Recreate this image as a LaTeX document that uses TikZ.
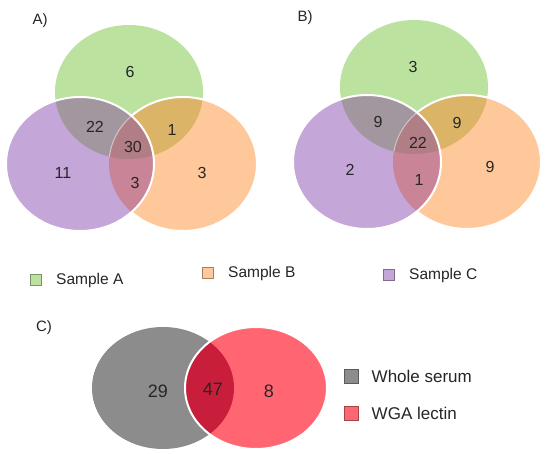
\documentclass[tikz,border=0pt]{standalone}
\usepackage{fontspec}
\setmainfont{Liberation Sans}
\usetikzlibrary{positioning}

\definecolor{sampleA}{HTML}{BCE2A0}
\definecolor{sampleB}{HTML}{FFC89B}
\definecolor{sampleC}{HTML}{C4A6D8}
\definecolor{sampleAB}{HTML}{DCB468}
\definecolor{sampleAC}{HTML}{A2969F}
\definecolor{sampleBC}{HTML}{C98597}
\definecolor{sampleABC}{HTML}{B27E85}
\definecolor{serum}{HTML}{8C8C8C}
\definecolor{lectin}{HTML}{FF6672}
\definecolor{serumlectin}{HTML}{C81E3C}
\definecolor{txt}{HTML}{262626}

\tikzset{
    set radius/.style={x radius=74, y radius=67},
    pair radius/.style={x radius=71, y radius=61},
    white rim/.style={draw=white, line width=2pt},
    count/.style={font=\fontsize{16}{18}\selectfont, text=txt},
    big count/.style={font=\fontsize{18}{20}\selectfont, text=txt},
    panel/.style={font=\fontsize{15}{17}\selectfont, text=txt},
    key box/.style={draw=#1!65!black, fill=#1, minimum size=11pt, inner sep=0pt},
    big key box/.style={key box=#1, minimum size=14pt},
    key/.style={font=\fontsize{15.5}{17}\selectfont, text=txt},
    big key/.style={font=\fontsize{17}{19}\selectfont, text=txt},
}

% #1 green centre, #2 orange centre, #3 purple centre
\newcommand{\vennTriple}[3]{
    \fill[sampleA] #1 ellipse[set radius];
    \fill[sampleB] #2 ellipse[set radius];
    \begin{scope}
        \clip #1 ellipse[set radius];
        \fill[sampleAB] #2 ellipse[set radius];
    \end{scope}
    \draw[white rim] #2 ellipse[set radius];
    \fill[sampleC] #3 ellipse[set radius];
    \begin{scope}
        \clip #3 ellipse[set radius];
        \fill[sampleBC] #2 ellipse[set radius];
        \fill[sampleAC] #1 ellipse[set radius];
        \clip #1 ellipse[set radius];
        \fill[sampleABC] #2 ellipse[set radius];
        \draw[white, line width=1pt, opacity=.5] #2 ellipse[set radius];
    \end{scope}
    \draw[white rim] #3 ellipse[set radius];
}

\begin{document}
\begin{tikzpicture}[x=1pt, y=-1pt]
    \useasboundingbox[fill=white] (0,0) rectangle (550,454);

    % A)
    \vennTriple{(129,92)}{(183,164)}{(80,164)}
    \node[panel] (labelA) at (40,21) {A)};
    \foreach \name/\pos/\num in {a1/{(130,72)}/6, a2/{(95,127)}/22, a3/{(172,130)}/1,
            a4/{(133,147)}/30, a5/{(63,173)}/11, a6/{(135,183)}/3, a7/{(202,173)}/3}
        \node[count] (\name) at \pos {\num};

    % B)
    \vennTriple{(414,87)}{(467,162)}{(367,162)}
    \node[panel] (labelB) at (305,18) {B)};
    \foreach \name/\pos/\num in {b1/{(413,67)}/3, b2/{(378,122)}/9, b3/{(457,123)}/9,
            b4/{(418,143)}/22, b5/{(350,170)}/2, b6/{(419,180)}/1, b7/{(490,167)}/9}
        \node[count] (\name) at \pos {\num};

    % legend A/B
    \node[key box=sampleA] (keyA) at (36,280) {};
    \node[key, right=11pt of keyA] (keyAtext) {Sample A};
    \node[key box=sampleB] (keyB) at (208,273) {};
    \node[key, right=11pt of keyB] (keyBtext) {Sample B};
    \node[key box=sampleC] (keyC) at (389,275) {};
    \node[key, right=11pt of keyC] (keyCtext) {Sample C};

    % C)
    \fill[serum] (163,388) ellipse[pair radius];
    \fill[lectin] (256,388) ellipse[pair radius];
    \begin{scope}
        \clip (163,388) ellipse[pair radius];
        \fill[serumlectin] (256,388) ellipse[pair radius];
    \end{scope}
    \draw[white rim] (256,388) ellipse[pair radius];
    \node[panel] (labelC) at (44,328) {C)};
    \node[big count] (c1) at (158,391) {29};
    \node[big count] (c2) at (213,389) {47};
    \node[big count] (c3) at (269,391) {8};

    \node[big key box=serum] (keySerum) at (351,376) {};
    \node[big key, right=10pt of keySerum] (keySerumtext) {Whole serum};
    \node[big key box=lectin] (keyLectin) at (351,413) {};
    \node[big key, right=10pt of keyLectin] (keyLectintext) {WGA lectin};
\end{tikzpicture}
\end{document}
